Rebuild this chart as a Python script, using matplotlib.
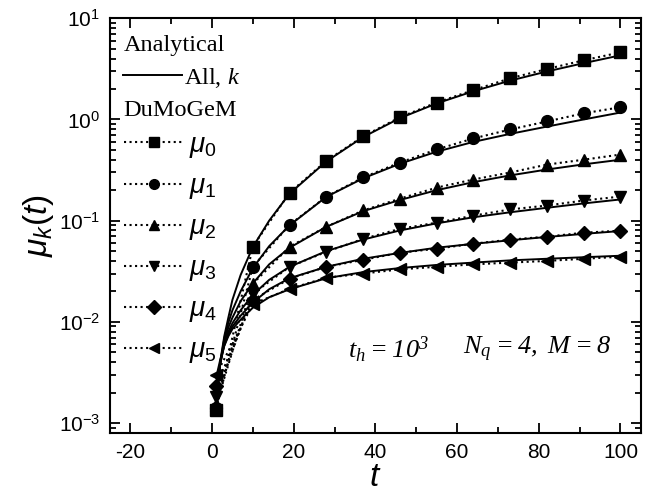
import matplotlib
matplotlib.use('Agg')
import matplotlib.pyplot as plt
from matplotlib.lines import Line2D
from matplotlib.ticker import MultipleLocator, LogLocator

plt.rcParams['font.family'] = 'Liberation Sans'
plt.rcParams['axes.unicode_minus'] = False
plt.rcParams['mathtext.fontset'] = 'custom'
plt.rcParams['mathtext.rm'] = 'Liberation Sans'
plt.rcParams['mathtext.it'] = 'Liberation Sans:italic'
# serif italic used for the annotations via \mathbf
plt.rcParams['mathtext.bf'] = 'Liberation Serif:italic'

# DuMoGeM points
t_sim = [1, 10, 19, 28, 37, 46, 55, 64, 73, 82, 91, 100]
mu0_sim = [0.00135, 0.0555, 0.189, 0.39, 0.68, 1.05, 1.47, 1.95, 2.55, 3.15, 3.84, 4.6]
mu1_sim = [0.0014, 0.035, 0.091, 0.173, 0.267, 0.375, 0.505, 0.649, 0.796, 0.955, 1.15, 1.32]
mu2_sim = [0.0015, 0.0238, 0.0553, 0.087, 0.126, 0.165, 0.212, 0.255, 0.299, 0.358, 0.40, 0.45]
mu3_sim = [0.0018, 0.019, 0.035, 0.0493, 0.066, 0.083, 0.0955, 0.112, 0.129, 0.141, 0.158, 0.173]
mu4_sim = [0.0023, 0.0165, 0.0267, 0.035, 0.041, 0.0482, 0.0528, 0.0592, 0.0649, 0.0695, 0.076, 0.0796]
mu5_sim = [0.003, 0.015, 0.0212, 0.0273, 0.030, 0.033, 0.035, 0.037, 0.0385, 0.040, 0.042, 0.044]

# analytical curves
t_exact = [1, 2, 3, 4, 5, 7, 10, 14, 19, 28, 37, 46, 55, 64, 73, 82, 91, 100]
mu0_exact = [0.0015, 0.0040, 0.0072, 0.011, 0.0165, 0.029, 0.055, 0.10, 0.185, 0.385, 0.67, 1.03, 1.44, 1.9, 2.42, 2.98, 3.6, 4.3]
mu1_exact = [0.0015, 0.0039, 0.0068, 0.0098, 0.013, 0.020, 0.034, 0.056, 0.090, 0.172, 0.262, 0.365, 0.48, 0.6, 0.72, 0.85, 1.0, 1.17]
mu2_exact = [0.0016, 0.0038, 0.0064, 0.0088, 0.011, 0.016, 0.024, 0.037, 0.054, 0.087, 0.124, 0.16, 0.2, 0.24, 0.28, 0.32, 0.36, 0.40]
mu3_exact = [0.0018, 0.0038, 0.006, 0.008, 0.0097, 0.013, 0.0185, 0.026, 0.035, 0.05, 0.065, 0.08, 0.094, 0.108, 0.121, 0.134, 0.148, 0.162]
mu4_exact = [0.0022, 0.0039, 0.0058, 0.0075, 0.009, 0.0115, 0.0155, 0.021, 0.027, 0.035, 0.042, 0.048, 0.054, 0.059, 0.064, 0.069, 0.074, 0.079]
mu5_exact = [0.0028, 0.0042, 0.0058, 0.0072, 0.0085, 0.0105, 0.0138, 0.0175, 0.021, 0.027, 0.031, 0.034, 0.0365, 0.0385, 0.0405, 0.042, 0.0435, 0.045]

sim = [mu0_sim, mu1_sim, mu2_sim, mu3_sim, mu4_sim, mu5_sim]
exact = [mu0_exact, mu1_exact, mu2_exact, mu3_exact, mu4_exact, mu5_exact]
markers = ['s', 'o', '^', 'v', 'D', '<']
sizes = [8, 8.5, 8.5, 8.5, 7, 8.5]
labels = [r'$\mu_{%d}$' % k for k in range(6)]

fig = plt.figure(figsize=(6.58, 4.93), dpi=100)
ax = fig.add_axes([0.167, 0.122, 0.807, 0.841])

for k in range(6):
    ax.plot(t_exact, exact[k], '-', color='black', lw=1.4)
    ax.plot(t_sim, sim[k], ':', color='black', lw=1.5,
            marker=markers[k], ms=sizes[k])

ax.set_yscale('log')
ax.set_xlim(-25, 105)
ax.set_ylim(8e-4, 10)
ax.xaxis.set_major_locator(MultipleLocator(20))
ax.xaxis.set_minor_locator(MultipleLocator(10))
ax.yaxis.set_major_locator(LogLocator(base=10, numticks=10))
ax.yaxis.set_minor_locator(LogLocator(base=10, subs=range(2, 10), numticks=20))
ax.tick_params(which='both', direction='in', top=True, right=True, width=1.3)
ax.tick_params(which='major', length=7, labelsize=15, pad=7)
ax.tick_params(which='minor', length=4)
for s in ax.spines.values():
    s.set_linewidth(1.5)

ax.set_xlabel(r'$t$', fontsize=24, labelpad=0)
ax.set_ylabel(r'$\mu_k(t)$', fontsize=24, labelpad=2)

# legend: headers as text, entries as legends
ax.text(0.026, 0.935, 'Analytical', transform=ax.transAxes, fontsize=17.5,
        family='Liberation Serif', va='center')
ax.text(0.026, 0.778, 'DuMoGeM', transform=ax.transAxes, fontsize=17.5,
        family='Liberation Serif', va='center')

h1 = [Line2D([], [], color='black', lw=1.4)]
leg1 = ax.legend(h1, [r'All, $\mathbf{k}$'], loc='center left',
                 bbox_to_anchor=(0.007, 0.857), frameon=False,
                 handlelength=2.4, handletextpad=0.1, borderaxespad=0,
                 prop={'family': 'Liberation Serif', 'size': 17.5})
ax.add_artist(leg1)

h2 = [Line2D([], [], color='black', ls=':', lw=1.5, marker=markers[k], ms=7)
      for k in range(6)]
ax.legend(h2, labels, loc='upper left', bbox_to_anchor=(0.005, 0.752),
          frameon=False, handlelength=2.15, handletextpad=0.2, labelspacing=0.47,
          borderaxespad=0, prop={'size': 20})

ax.text(0.448, 0.2, r'$\mathbf{t_h = 10^3}$', transform=ax.transAxes,
        fontsize=19, va='center')
ax.text(0.665, 0.2, r'$\mathbf{N_q = 4,\;M = 8}$', transform=ax.transAxes,
        fontsize=19, va='center')

fig.savefig('out.png', dpi=100)
